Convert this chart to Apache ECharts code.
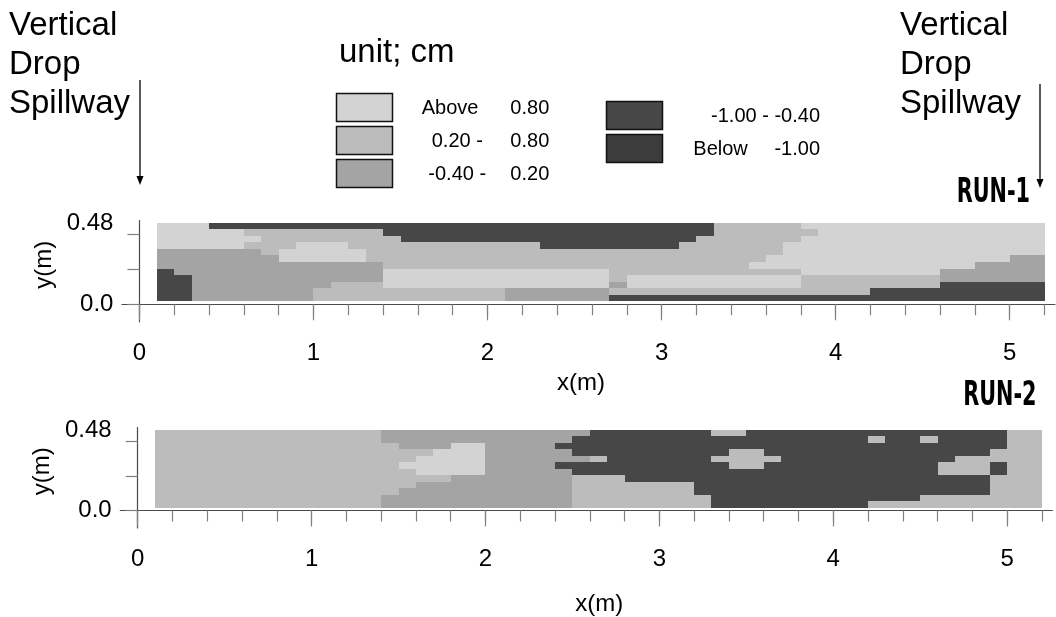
<!DOCTYPE html>
<html>
<head>
<meta charset="utf-8">
<script src="https://cdn.jsdelivr.net/npm/echarts@6.0.0/dist/echarts.min.js"></script>
<style>
  html, body { margin: 0; padding: 0; background: #fff; }
  #chart { width: 1056px; height: 617px; }
</style>
</head>
<body>
<div id="chart"></div>
<script>
// bed level change classes (unit: cm)
var classCodes = ['a', 'b', 'c', 'd', 'e'];
var classNames = [['Above', '0.80'], ['0.20 -', '0.80'], ['-0.40 -', '0.20'], ['', '-1.00 - -0.40'], ['Below', '-1.00']];
var classColors = ['#d3d3d3', '#bcbcbc', '#a4a4a4', '#474747', '#3c3c3c'];

// cell grid: columns of 0.1 m from x = 0.1, rows of 0.045 m from y = 0.56 downwards
var xStart = 0.1, xStep = 0.1;
var yTop = 0.56, yStep = 0.045;

// class code per cell, top row first (spaces only group the columns by ten)
var run1Rows = [
  'aaaddddddd dddddddddd dddddddddd ddbbbbbaaa aaaaaaaaaa a',
  'aaaaabbbbb bbbddddddd dddddddddd ddbbbbbbaa aaaaaaaaaa a',
  'aaaaaabbbb bbbbdddddd dddddddddd dbbbbbbaaa aaaaaaaaaa a',
  'aaaaabbbaa abbbbbbbbb bbdddddddd bbbbbbaaaa aaaaaaaaaa a',
  'ccccccbaaa aabbbbbbbb bbbbbbbbbb bbbbbbaaaa aaaaaaaaaa a',
  'cccccccaaa aabbbbbbbb bbbbbbbbbb bbbbbaaaaa aaaaaaaaac c',
  'cccccccccc cccbbbbbbb bbbbbbbbbb bbbbaaaaaa aaaaaaaccc c',
  'dccccccccc cccaaaaaaa aaaaaabbbb bbbbbbbaaa aaaaaccccc c',
  'ddcccccccc cccaaaaaaa aaaaaabaaa aaaaaaabbb bbbbbccccc c',
  'ddcccccccc bbbaaaaaaa aaaaaacaaa aaaaaaabbb bbbbbddddd d',
  'ddcccccccb bbbbbbbbbb ccccccbbbb bbbbbbbbbb bddddddddd d',
  'ddcccccccb bbbbbbbbbb ccccccdddd dddddddddd dddddddddd d'
];
var run2Rows = [
  'bbbbbbbbbb bbbccccccc cccccddddd ddbbdddddd dddddddddb b',
  'bbbbbbbbbb bbbccccccc ccccdddddd dddddddddd dbddbddddb b',
  'bbbbbbbbbb bbbbcccaac cccddddddd dddddddddd dddddddddb b',
  'bbbbbbbbbb bbbbbbaaac ccccdddddd dddbbddddd ddddddddbb b',
  'bbbbbbbbbb bbbbbaaaac cccccbdddd ddbbbbdddd ddddddbbbb b',
  'bbbbbbbbbb bbbbaaaaac cccddddddd dddbbddddd dddddbbbdb b',
  'bbbbbbbbbb bbbbbaaaac ccccdddddd dddddddddd dddddbbbdb b',
  'bbbbbbbbbb bbbbbbbccc ccccbbbddd dddddddddd ddddddddbb b',
  'bbbbbbbbbb bbbbbccccc ccccbbbbbb bddddddddd ddddddddbb b',
  'bbbbbbbbbb bbbbcccccc ccccbbbbbb bddddddddd ddddddddbb b',
  'bbbbbbbbbb bbbccccccc ccccbbbbbb bbdddddddd ddddbbbbbb b',
  'bbbbbbbbbb bbbccccccc ccccbbbbbb bbdddddddd dbbbbbbbbb b'
];

// axis ticks and labels
var xLabelValues = [0, 1, 2, 3, 4, 5];
var xTickValues = [0, 0.2, 0.4, 0.6, 0.8, 1, 1.2, 1.4, 1.6, 1.8, 2, 2.2, 2.4, 2.6, 2.8, 3,
  3.2, 3.4, 3.6, 3.8, 4, 4.2, 4.4, 4.6, 4.8, 5, 5.2];
var yTickValues = [0, 0.24, 0.48];
var yLabelValues = [0, 0.48];

var FONT = '"Liberation Sans", Arial, Helvetica, sans-serif';

function toCells(rows) {
  var out = [];
  rows.forEach(function (row, r) {
    var codes = row.replace(/ /g, '');
    for (var c = 0; c < codes.length; c++) {
      var x0 = xStart + c * xStep;
      var y1 = yTop - r * yStep;
      out.push([x0, x0 + xStep, y1 - yStep, y1, classCodes.indexOf(codes[c])]);
    }
  });
  return out;
}

function renderCell(params, api) {
  var p0 = api.coord([api.value(0), api.value(3)]);
  var p1 = api.coord([api.value(1), api.value(2)]);
  var x = Math.round(p0[0]), y = Math.round(p0[1]);
  return {
    type: 'rect',
    shape: { x: x, y: y, width: Math.round(p1[0]) - x, height: Math.round(p1[1]) - y },
    style: { fill: classColors[api.value(4)] }
  };
}

var lineColor = '#4a4a4a', tickColor = '#808080';

// the axes sit on x = 0 / y = 0 inside the grid, so they are pulled in with a negative offset
function makeXAxes(gridIndex, offset, nameGap, namePad) {
  return [{
    type: 'value', gridIndex: gridIndex, min: -0.1, max: 5.26, position: 'bottom', offset: offset,
    axisLine: { onZero: false, lineStyle: { color: lineColor, width: 1.2 } },
    axisTick: { customValues: xLabelValues, length: 16, lineStyle: { color: tickColor, width: 1.2 } },
    axisLabel: { customValues: xLabelValues, margin: 37, fontSize: 24, color: '#000', fontFamily: FONT },
    splitLine: { show: false },
    name: 'x(m)', nameLocation: 'middle', nameGap: nameGap, nameMoveOverlap: false,
    nameTextStyle: { fontSize: 24, color: '#000', fontFamily: FONT, padding: namePad }
  }, {
    type: 'value', gridIndex: gridIndex, min: -0.1, max: 5.26, position: 'bottom', offset: offset,
    axisLine: { onZero: false, lineStyle: { color: 'rgba(0,0,0,0)' } },
    axisTick: { customValues: xTickValues, length: 11, lineStyle: { color: tickColor, width: 1.2 } },
    axisLabel: { show: false },
    splitLine: { show: false }
  }];
}

function makeYAxis(gridIndex, offset) {
  return {
    type: 'value', gridIndex: gridIndex, min: -0.12, max: 0.575, position: 'left', offset: offset,
    axisLine: { onZero: false, lineStyle: { color: lineColor, width: 1.2 } },
    axisTick: { customValues: yTickValues, length: 12, lineStyle: { color: tickColor, width: 1.2 } },
    axisLabel: {
      customValues: yLabelValues, margin: 26, fontSize: 24, color: '#000', fontFamily: FONT,
      formatter: function (v) { return v === 0 ? '0.0' : '{hi|' + v.toFixed(2) + '}'; },
      rich: { hi: { fontSize: 24, color: '#000', fontFamily: FONT, padding: [0, 0, 22, 0] } }
    },
    splitLine: { show: false },
    name: 'y(m)', nameLocation: 'middle', nameGap: 83, nameMoveOverlap: false,
    nameTextStyle: { fontSize: 24, color: '#000', fontFamily: FONT, padding: [0, 0, 0, 13] }
  };
}

function txt(text, x, y, size, align, extra) {
  var style = { text: text, x: 0, y: 0, fontSize: size, fontFamily: FONT, fill: '#000',
    align: align || 'left', verticalAlign: 'middle' };
  var el = { type: 'text', x: x, y: y, style: style, silent: true };
  if (extra) {
    for (var k in extra) {
      if (k === 'scaleX') el.scaleX = extra[k]; else style[k] = extra[k];
    }
  }
  return el;
}

function arrow(x, y0, y1) {
  return [
    { type: 'line', shape: { x1: x, y1: y0, x2: x, y2: y1 - 6 }, style: { stroke: '#000', lineWidth: 1.3 }, silent: true },
    { type: 'polygon', shape: { points: [[x - 3.5, y1 - 9], [x + 3.5, y1 - 9], [x, y1]] }, style: { fill: '#000' }, silent: true }
  ];
}

var graphics = [];
['Vertical', 'Drop', 'Spillway'].forEach(function (s, i) {
  graphics.push(txt(s, 9, 26 + i * 39, 33));
  graphics.push(txt(s, 900, 26 + i * 39, 33));
});
graphics = graphics.concat(arrow(140, 80, 185), arrow(1040, 84, 188));
graphics.push(txt('unit; cm', 339, 53, 33));

// legend boxes: left column three classes, right column two
var legendBoxes = [[336.5, 93.5], [336.5, 126.5], [336.5, 159.5], [606.5, 101.5], [606.5, 134.5]];
legendBoxes.forEach(function (p, i) {
  graphics.push({ type: 'rect', shape: { x: p[0], y: p[1], width: 56, height: 28 },
    style: { fill: classColors[i], stroke: '#111', lineWidth: 1.5 }, silent: true });
});
var legendLeftX = [421.7, 431.7, 428.3, 703.3, 693.3];
var legendRightX = [549.3, 549.3, 549.3, 820, 820];
classNames.forEach(function (n, i) {
  var cy = legendBoxes[i][1] + 15;
  if (n[0]) graphics.push(txt(n[0], legendLeftX[i], cy, 20, 'left'));
  graphics.push(txt(n[1], legendRightX[i], cy, 20, 'right'));
});

var RUNFONT = '"DejaVu Sans Condensed", "Liberation Sans Narrow", sans-serif';
graphics.push(txt('RUN-1', 1030, 193.5, 33, 'right', { fontFamily: RUNFONT, fontWeight: 'bold', scaleX: 0.7 }));
graphics.push(txt('RUN-2', 1036.5, 396.5, 33, 'right', { fontFamily: RUNFONT, fontWeight: 'bold', scaleX: 0.7 }));

var chart = echarts.init(document.getElementById('chart'), null, { renderer: 'canvas' });
chart.setOption({
  animation: false,
  backgroundColor: '#fff',
  grid: [
    { left: 122, top: 220.5, width: 933, height: 101.3, outerBoundsMode: 'none' },
    { left: 120.3, top: 427.5, width: 932, height: 100.4, outerBoundsMode: 'none' }
  ],
  xAxis: makeXAxes(0, -17.5, 67, [0, 15, 0, 0]).concat(makeXAxes(1, -17.4, 82, [0, 0, 0, 26])),
  yAxis: [makeYAxis(0, -17.4), makeYAxis(1, -17.4)],
  series: [{
    name: 'RUN-1', type: 'custom', xAxisIndex: 0, yAxisIndex: 0,
    encode: { x: [0, 1], y: [2, 3] },
    renderItem: renderCell, data: toCells(run1Rows), z: 1
  }, {
    name: 'RUN-2', type: 'custom', xAxisIndex: 2, yAxisIndex: 1,
    encode: { x: [0, 1], y: [2, 3] },
    renderItem: renderCell, data: toCells(run2Rows), z: 1
  }],
  graphic: graphics
});
</script>
</body>
</html>
